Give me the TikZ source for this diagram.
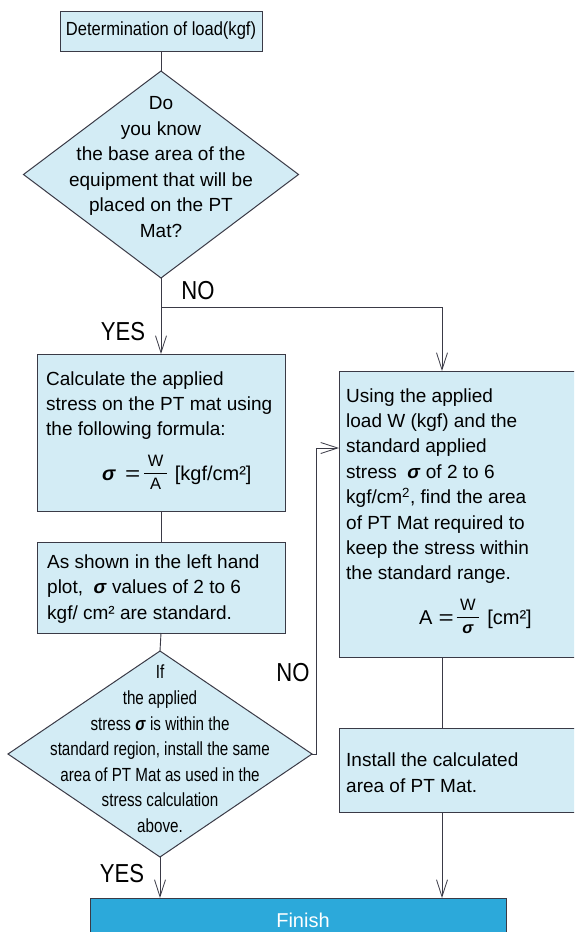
\documentclass[tikz,border=0pt]{standalone}
\usepackage{fontspec}
\setmainfont{Liberation Sans}
\newfontfamily\narrowfont[FakeStretch=0.80]{Liberation Sans}
\newfontfamily\semifont[FakeStretch=0.87]{Liberation Sans}
\newfontfamily\labfont[FakeStretch=0.85]{Liberation Sans}
\usetikzlibrary{shapes.geometric,arrows.meta,calc}
\definecolor{boxblue}{HTML}{D3ECF5}
\definecolor{finblue}{HTML}{2CA9DA}
\definecolor{edgecol}{HTML}{3A3A46}
\newcommand\sig{\textbf{\textit{σ}}}
\newcommand\myfrac[2]{$\vcenter{\hbox{\fontsize{16.5}{16.5}\selectfont\setlength{\tabcolsep}{3.5pt}\setlength{\arrayrulewidth}{1.1pt}\begin{tabular}{c}#1\\[1pt]\hline\rule{0pt}{16pt}#2\end{tabular}}}$}
\newcommand\wideeq{\scalebox{1.3}[1]{=}}
\begin{document}
\begin{tikzpicture}[x=1pt,y=-1pt,
  boxst/.style={draw=edgecol,line width=1pt,fill=boxblue,rectangle,inner sep=0pt,outer sep=0pt},
  diast/.style={draw=edgecol,line width=1pt,fill=boxblue,diamond,inner sep=0pt,outer sep=0pt},
  bodytext/.style={font=\fontsize{19}{25.4}\selectfont,align=left,inner sep=0pt,anchor=west},
  diatext/.style={font=\fontsize{19}{25.6}\selectfont,align=center,inner sep=0pt},
  lab/.style={font=\labfont\fontsize{26}{26}\selectfont,inner sep=0pt},
  conn/.style={draw=edgecol,line width=0.9pt},
  arr/.style={conn,-{Straight Barb[length=17pt,width=11pt,line width=0.8pt]}}]
\useasboundingbox (0,0) rectangle (574,932);
\clip (0,0) rectangle (574,932);
\fill[white] (0,0) rectangle (574,932);

% top box
\node[boxst,minimum width=202pt,minimum height=40pt,font=\semifont\fontsize{19}{22}\selectfont] (start) at (161,31) {Determination of load(kgf)};

% first decision
\node[diast,minimum width=275pt,minimum height=207pt] (q1) at (161,174.5) {};
\node[diatext] (q1t) at (161,167) {Do\\you know\\the base area of the\\equipment that will be\\placed on the PT\\Mat?};

% left process box
\node[boxst,minimum width=248pt,minimum height=157pt] (b1) at (161,432.5) {};
\node[bodytext] (b1t) at (46,405.5) {Calculate the applied\\stress on the PT mat using\\the following formula:};
\node[bodytext] (b1f) at (102,475) {\fontsize{20}{20}\selectfont\sig\hspace{9pt}\wideeq\hspace{4pt}\myfrac{W}{A}\hspace{8pt}[kgf/cm²]};

% second left box
\node[boxst,minimum width=248pt,minimum height=91pt] (b3) at (161,587.5) {};
\node[bodytext] (b3t) at (47,589) {As shown in the left hand\\plot, \ \sig\ values of 2 to 6\\kgf/ cm² are standard.};

% second decision
\node[diast,minimum width=304pt,minimum height=206pt] (q2) at (160,754) {};
\node[diatext,font=\narrowfont\fontsize{19}{25.6}\selectfont] (q2t) at (160,749) {If\\the applied\\stress \sig\ is within the\\standard region, install the same\\area of PT Mat as used in the\\stress calculation\\above.};

% right box
\node[boxst,minimum width=266pt,minimum height=286pt] (r1) at (472,514) {};
\node[bodytext] (r1t) at (346,486) {Using the applied\\load W (kgf) and the\\standard applied\\stress \ \sig\ of 2 to 6\\kgf/cm\textsuperscript{2}, find the area\\of PT Mat required to\\keep the stress within\\the standard range.};
\node[bodytext] (r1f) at (419,619) {\fontsize{20}{20}\selectfont A\hspace{6pt}\wideeq\hspace{3pt}\myfrac{W}{\sig}\hspace{8pt}[cm²]};

% install box
\node[boxst,minimum width=266pt,minimum height=84pt] (r2) at (472,770) {};
\node[bodytext] (r2t) at (346,772.5) {Install the calculated\\area of PT Mat.};

% finish
\node[boxst,fill=finblue,minimum width=416pt,minimum height=62pt] (fin) at (298,929) {};
\node[font=\fontsize{20}{20}\selectfont,text=white,inner sep=0pt] (fint) at (303,920) {Finish};

% labels
\node[lab] (no1) at (198,291) {NO};
\node[lab] (yes1) at (123,332) {YES};
\node[lab] (no2) at (293,673) {NO};
\node[lab] (yes2) at (122,874) {YES};

% connectors
\coordinate (split) at (161,307);
\draw[conn] (start.south) -- (q1.north);
\draw[conn] (q1.south) -- (split);
\draw[arr] (split) -- (b1.north);
\draw[arr] (split) -| ([xshift=103pt]r1.north west);
\draw[conn] (b1.south) -- (b3.north);
\draw[conn] (b3.south) -- (q2.north);
\draw[arr] (q2.east) -- ++(4,0) |- ([yshift=-77pt]r1.north west);
\draw[arr] (q2.south) -- (q2.south |- fin.north);
\draw[conn] ([xshift=103pt]r1.south west) -- ([xshift=103pt]r2.north west);
\draw[arr] ([xshift=103pt]r2.south west) -- ([xshift=103pt]r2.south west |- fin.north);
\end{tikzpicture}
\end{document}
